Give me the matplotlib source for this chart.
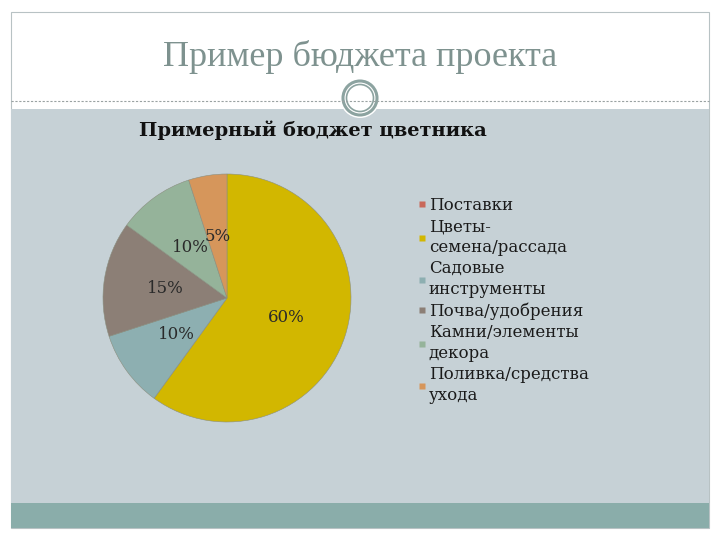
import matplotlib
matplotlib.use("Agg")
import matplotlib.pyplot as plt
from matplotlib.patches import Rectangle, Circle
from matplotlib.lines import Line2D

# data
categories = ["Поставки", "Цветы-\nсемена/рассада", "Садовые\nинструменты",
              "Почва/удобрения", "Камни/элементы\nдекора", "Поливка/средства\nухода"]
shares = [0, 60, 10, 15, 10, 5]
colors = ["#C9685A", "#D2B700", "#8DAFB1", "#8C7F76", "#95B39A", "#D6965B"]

slide_title = "Пример бюджета проекта"
chart_title = "Примерный бюджет цветника"

fig = plt.figure(figsize=(7.2, 5.4), dpi=100)
fig.patch.set_facecolor("white")

# slide background drawn in pixel coords
bg = fig.add_axes([0, 0, 1, 1])
bg.set_xlim(0, 720)
bg.set_ylim(540, 0)
bg.axis("off")
bg.add_patch(Rectangle((11, 12), 698, 516, facecolor="white", edgecolor="#B8C2C4", lw=0.8))
bg.add_patch(Rectangle((11, 109), 698, 395, facecolor="#C6D1D6", edgecolor="none"))
bg.add_patch(Rectangle((11, 503), 698, 25, facecolor="#8AADAA", edgecolor="none"))
bg.plot([11, 709], [101, 101], ls=(0, (2, 1.5)), color="#9AA2A2", lw=0.8)
bg.add_patch(Circle((360, 98), 20, facecolor="white", edgecolor="none"))
bg.add_patch(Circle((360, 98), 17, facecolor="white", edgecolor="#8CA3A0", lw=2.2))
bg.add_patch(Circle((360, 98), 13.5, facecolor="white", edgecolor="#8CA3A0", lw=1.2))
bg.text(360, 57, slide_title, ha="center", va="center", fontsize=26,
        family="Liberation Serif", color="#7E928F")
bg.text(313, 130, chart_title, ha="center", va="center", fontsize=14,
        family="DejaVu Serif", fontweight="bold", color="#111111")

# pie
r = 124
ax = fig.add_axes([(227 - r) / 720, 1 - (298 + r) / 540, 2 * r / 720, 2 * r / 540])
wedges, texts, autotexts = ax.pie(
    shares, colors=colors, startangle=90, counterclock=False,
    autopct=lambda p: "" if p < 0.5 else "%d%%" % round(p),
    pctdistance=0.5, wedgeprops=dict(edgecolor="#8a8f80", linewidth=0.4),
    textprops=dict(family="DejaVu Serif", fontsize=12, color="#2a2a2a"))
ax.set_xlim(-1, 1)
ax.set_ylim(-1, 1)
ax.set_aspect("equal")

handles = [Line2D([], [], marker="s", ls="none", markersize=4.5,
                  markerfacecolor=c, markeredgecolor="none") for c in colors]
leg = fig.legend(handles, categories, loc="upper left", bbox_to_anchor=(418 / 720, 1 - 197 / 540),
                 frameon=False, handlelength=0.5, handletextpad=0.15, labelspacing=0.25,
                 borderaxespad=0, borderpad=0,
                 prop=dict(family="DejaVu Serif", size=12))
for t in leg.get_texts():
    t.set_linespacing(1.3)
    t.set_color("#1a1a1a")

fig.savefig("out.png", dpi=100)
